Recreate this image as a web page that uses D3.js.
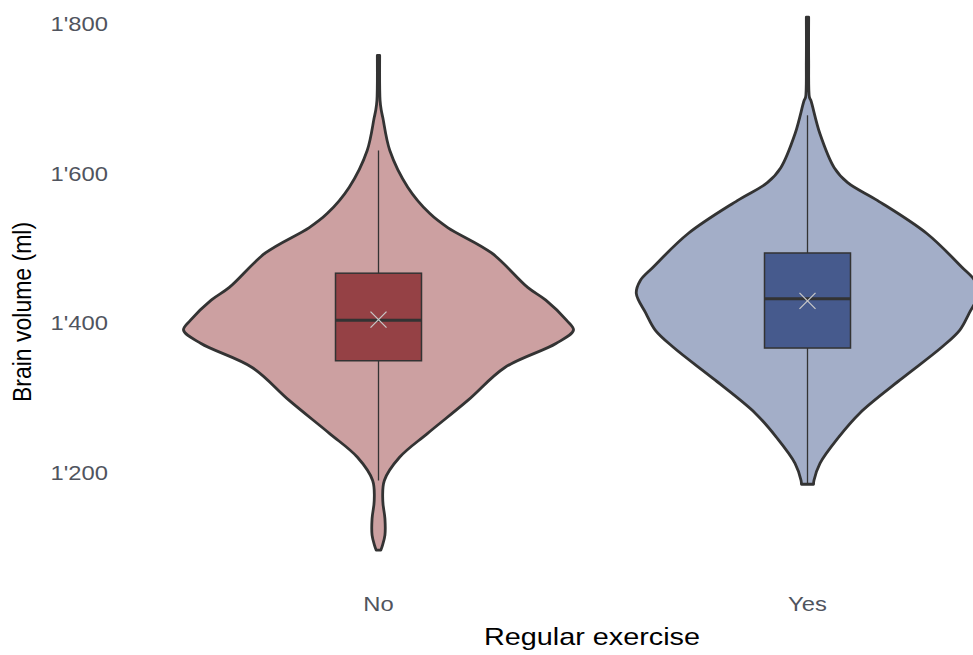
<!DOCTYPE html>
<html>
<head>
<meta charset="utf-8">
<script src="https://cdn.jsdelivr.net/npm/d3@7/dist/d3.min.js"></script>
<style>
  html, body { margin: 0; padding: 0; background: #fff; }
  svg { display: block; }
  text { font-family: "Liberation Sans", Arial, sans-serif; }
</style>
</head>
<body>
<svg id="chart" width="973" height="655"></svg>
<script>
// Groups
const categories = ["No", "Yes"];

// Violin outlines: brain volume (ml) and relative density (1 = widest violin)
const noValues   = [1758, 1698, 1685, 1675, 1631, 1582, 1547, 1528, 1494, 1448, 1431, 1404, 1391, 1373, 1341, 1297, 1253, 1221, 1190, 1163, 1139, 1117, 1103, 1097];
const noDensity  = [0.006, 0.008, 0.014, 0.022, 0.058, 0.150, 0.262, 0.355, 0.580, 0.765, 0.858, 0.965, 1.000, 0.910, 0.648, 0.458, 0.252, 0.108, 0.030, 0.022, 0.033, 0.033, 0.020, 0.012];
const yesValues  = [1809, 1751, 1702, 1698, 1654, 1608, 1588, 1564, 1520, 1475, 1457, 1440, 1413, 1391, 1368, 1324, 1280, 1248, 1213, 1190, 1185];
const yesDensity = [0.006, 0.006, 0.010, 0.017, 0.063, 0.137, 0.206, 0.360, 0.612, 0.792, 0.858, 0.878, 0.828, 0.781, 0.688, 0.473, 0.268, 0.160, 0.064, 0.033, 0.031];

// Box plot summaries per group: [lower whisker, Q1, median, Q3, upper whisker]
const noBox  = [1190, 1350, 1404, 1467, 1631];
const yesBox = [1186, 1367, 1433, 1494, 1678];
const groupMeans = [1405, 1430];

// Axis ticks
const yTicks = [1200, 1400, 1600, 1800];
const yTickLabels = ["1'200", "1'400", "1'600", "1'800"];

const violinFill = ["#CCA0A1", "#A3AEC8"];
const boxFill    = ["#954145", "#465A8D"];
const ink = "#333333";
const tickInk = "#50545e";
const stretch = 1.22; // glyphs are set slightly wide

const svg = d3.select("#chart");

const y = d3.scaleLinear().domain([1200, 1800]).range([473, 24]);
const x = d3.scalePoint().domain(categories).range([378.5, 807.5]);
const w = d3.scaleLinear().domain([0, 1]).range([0, 195]);
const boxHalf = 43;

const groups = [
  { key: "No",  values: noValues,  density: noDensity,  box: noBox,  mean: groupMeans[0] },
  { key: "Yes", values: yesValues, density: yesDensity, box: yesBox, mean: groupMeans[1] }
];

// y axis tick labels
svg.append("g")
  .selectAll("text")
  .data(yTicks)
  .join("text")
  .attr("transform", d => `translate(108,${y(d)}) scale(${stretch},1)`)
  .attr("dy", "0.35em")
  .attr("text-anchor", "end")
  .attr("font-size", 19.5)
  .attr("fill", tickInk)
  .text((d, i) => yTickLabels[i]);

// x axis tick labels
svg.append("g")
  .selectAll("text")
  .data(categories)
  .join("text")
  .attr("transform", d => `translate(${x(d)},611) scale(${stretch},1)`)
  .attr("text-anchor", "middle")
  .attr("font-size", 19.5)
  .attr("fill", tickInk)
  .text(d => d);

// axis titles
svg.append("text")
  .attr("transform", `translate(592,645) scale(1.2,1)`)
  .attr("text-anchor", "middle")
  .attr("font-size", 24)
  .attr("fill", "#000")
  .text("Regular exercise");

svg.append("text")
  .attr("transform", "translate(31,312) scale(1.1,1) rotate(-90)")
  .attr("text-anchor", "middle")
  .attr("font-size", 23)
  .attr("fill", "#000")
  .text("Brain volume (ml)");

const plot = svg.append("g");

groups.forEach((g, gi) => {
  const cx = x(g.key);
  const pts = g.values.map((v, i) => ({ v, d: g.density[i] }));

  const area = d3.area()
    .y(p => y(p.v))
    .x0(p => cx - w(p.d))
    .x1(p => cx + w(p.d))
    .curve(d3.curveCatmullRom.alpha(0.5));

  plot.append("path")
    .datum(pts)
    .attr("d", area)
    .attr("fill", violinFill[gi])
    .attr("stroke", ink)
    .attr("stroke-width", 2.8)
    .attr("stroke-linejoin", "round");

  const [lo, q1, med, q3, hi] = g.box;

  // whiskers
  plot.append("line")
    .attr("x1", cx).attr("x2", cx)
    .attr("y1", y(q3)).attr("y2", y(hi))
    .attr("stroke", ink).attr("stroke-width", 1.3);
  plot.append("line")
    .attr("x1", cx).attr("x2", cx)
    .attr("y1", y(q1)).attr("y2", y(lo))
    .attr("stroke", ink).attr("stroke-width", 1.3);

  // box
  plot.append("rect")
    .attr("x", cx - boxHalf)
    .attr("y", y(q3))
    .attr("width", boxHalf * 2)
    .attr("height", y(q1) - y(q3))
    .attr("fill", boxFill[gi])
    .attr("stroke", ink)
    .attr("stroke-width", 1.5);

  // median
  plot.append("line")
    .attr("x1", cx - boxHalf).attr("x2", cx + boxHalf)
    .attr("y1", y(med)).attr("y2", y(med))
    .attr("stroke", ink).attr("stroke-width", 3);

  // mean marker
  const my = y(g.mean), s = 8;
  plot.append("path")
    .attr("d", `M${cx - s},${my - s}L${cx + s},${my + s}M${cx - s},${my + s}L${cx + s},${my - s}`)
    .attr("stroke", "#c8c8c8")
    .attr("stroke-width", 1.3)
    .attr("fill", "none");
});
</script>
</body>
</html>
